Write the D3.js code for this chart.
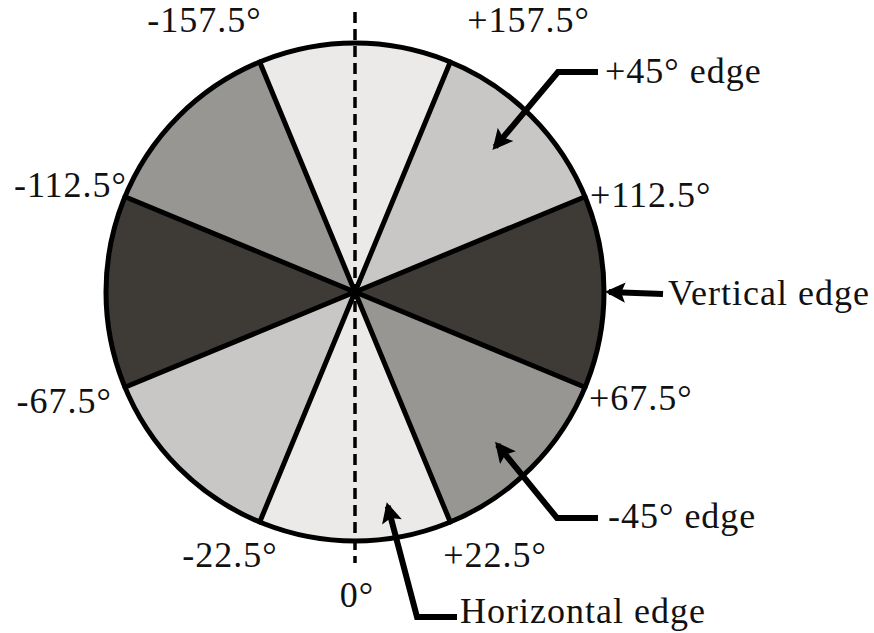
<!DOCTYPE html>
<html>
<head>
<meta charset="utf-8">
<script src="https://cdn.jsdelivr.net/npm/d3@7"></script>
<style>
  body { margin: 0; background: #fff; }
  svg text { font-family: "Liberation Serif", "Times New Roman", serif; font-size: 36px; letter-spacing: 1px; fill: #111; }
</style>
</head>
<body>
<svg id="wheel" width="874" height="633"></svg>
<script>
// boundary angles (deg, measured from the downward vertical, + to the right)
var boundaries = [-157.5, -112.5, -67.5, -22.5, 22.5, 67.5, 112.5, 157.5]
var boundaryLabels = ['-157.5°', '-112.5°', '-67.5°', '-22.5°', '+22.5°', '+67.5°', '+112.5°', '+157.5°']
// sectors: start, end, shade class
var sectorStart = [-22.5, 22.5, 67.5, 112.5, 157.5, -157.5, -112.5, -67.5]
var sectorEnd   = [22.5, 67.5, 112.5, 157.5, 202.5, -112.5, -67.5, -22.5]
var sectorShade = ['light', 'mid', 'dark', 'pale', 'light', 'mid', 'dark', 'pale']
// edge annotations: name, angle pointed at, fraction of radius
var edgeNames = ['+45° edge', 'Vertical edge', '-45° edge', 'Horizontal edge']
var edgeAngle = [136, 90, 43, 8.7]
var edgeRadius = [0.81, 1.02, 0.84, 0.87]

var shadeColor = { light: '#ebeae8', pale: '#c8c7c5', mid: '#979692', dark: '#3e3b37' }

var svg = d3.select('#wheel')
var cx = 355, cy = 292, R = 249

// degrees -> d3.arc angle (0 = up, clockwise)
var toArc = d3.scaleLinear().domain([0, 180]).range([Math.PI, 0])
var rScale = d3.scaleLinear().domain([0, 1]).range([0, R])
function pt(deg, f) {
    var a = toArc(deg), r = rScale(f)
    return [cx + r * Math.sin(a), cy - r * Math.cos(a)]
}

var g = svg.append('g').attr('transform', `translate(${cx},${cy})`)
var arc = d3.arc().innerRadius(0).outerRadius(R)

g.selectAll('.sector')
    .data(sectorStart.map((s, i) => ({ s: s, e: sectorEnd[i], shade: sectorShade[i] })))
    .join('path')
    .attr('class', 'sector')
    .attr('d', d => arc({ startAngle: toArc(d.e), endAngle: toArc(d.s) }))
    .attr('fill', d => shadeColor[d.shade])

// dashed vertical axis
svg.append('line')
    .attr('x1', cx).attr('x2', cx)
    .attr('y1', 12).attr('y2', 563)
    .attr('stroke', '#000')
    .attr('stroke-width', 3.5)
    .attr('stroke-dasharray', '11,6')

// boundary lines
svg.selectAll('.edge')
    .data(boundaries)
    .join('line')
    .attr('class', 'edge')
    .attr('x1', cx).attr('y1', cy)
    .attr('x2', d => pt(d, 1)[0])
    .attr('y2', d => pt(d, 1)[1])
    .attr('stroke', '#000')
    .attr('stroke-width', 5)
    .attr('stroke-linecap', 'round')

g.append('circle')
    .attr('r', R)
    .attr('fill', 'none')
    .attr('stroke', '#000')
    .attr('stroke-width', 5)

// boundary labels
var labelOff = [[2, -30], [2, 0], [-13, 26], [18, 45], [-7, 45], [4, 23], [5, 10], [17, -30]]
svg.selectAll('.blabel')
    .data(boundaries)
    .join('text')
    .attr('class', 'blabel')
    .attr('x', (d, i) => pt(d, 1)[0] + labelOff[i][0])
    .attr('y', (d, i) => pt(d, 1)[1] + labelOff[i][1])
    .attr('text-anchor', d => d < 0 ? 'end' : 'start')
    .text((d, i) => boundaryLabels[i])

svg.append('text')
    .attr('x', cx + 2).attr('y', 607)
    .attr('text-anchor', 'middle')
    .text('0°')

// arrows
svg.append('defs').append('marker')
    .attr('id', 'head')
    .attr('viewBox', '0 0 10 10')
    .attr('refX', 8).attr('refY', 5)
    .attr('markerWidth', 3.6).attr('markerHeight', 3.4)
    .attr('markerUnits', 'strokeWidth')
    .attr('orient', 'auto')
    .append('path')
    .attr('d', 'M0,0 L10,5 L0,10 L2,5 Z')
    .attr('fill', '#000')

var elbows = [[[598, 72], [558, 72]], [[663, 294]], [[598, 518], [557, 518]], [[457, 617], [417, 617]]]
var textPos = [[605, 83], [668, 305], [608, 528], [460, 623]]

svg.selectAll('.arrow')
    .data(edgeNames)
    .join('path')
    .attr('class', 'arrow')
    .attr('d', (d, i) => d3.line()(elbows[i].concat([pt(edgeAngle[i], edgeRadius[i])])))
    .attr('fill', 'none')
    .attr('stroke', '#000')
    .attr('stroke-width', 6)
    .attr('stroke-linejoin', 'miter')
    .attr('marker-end', 'url(#head)')

svg.selectAll('.elabel')
    .data(edgeNames)
    .join('text')
    .attr('class', 'elabel')
    .attr('x', (d, i) => textPos[i][0])
    .attr('y', (d, i) => textPos[i][1])
    .text(d => d)
</script>
</body>
</html>
